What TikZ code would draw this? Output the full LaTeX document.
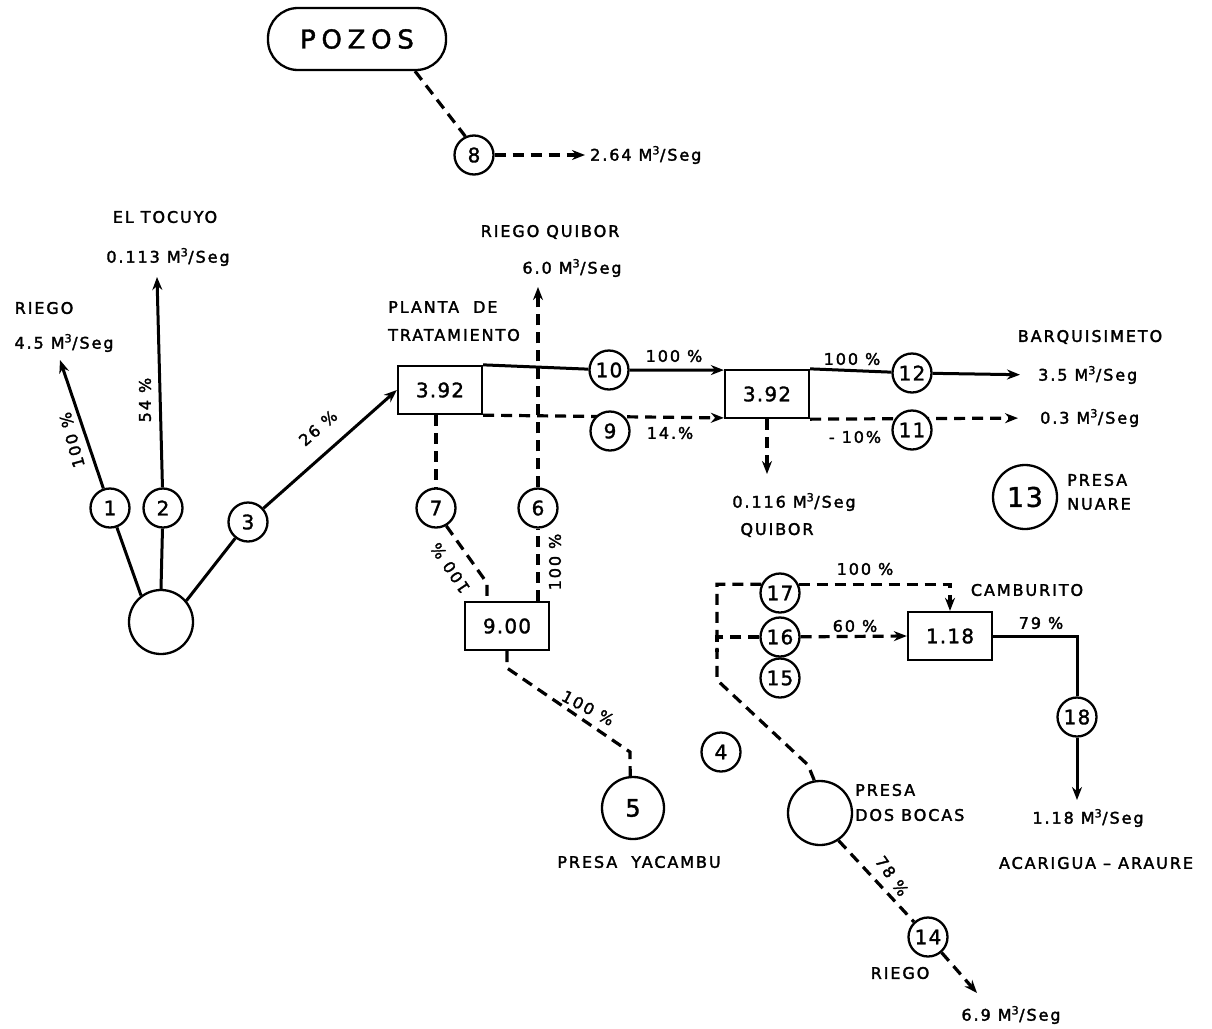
\documentclass[tikz,border=0pt]{standalone}
\usepackage{fontspec}
\setmainfont{DejaVu Sans}
\newfontfamily\lblfont[LetterSpace=12,FakeBold=2]{DejaVu Sans}
\newfontfamily\numfont[LetterSpace=6,FakeBold=1.5]{DejaVu Sans}
\newfontfamily\pozfont[LetterSpace=22,FakeBold=1.5]{DejaVu Sans}
\usetikzlibrary{arrows.meta}
\tikzset{
  ln/.style={line width=3pt},
  dsh/.style={line width=3.2pt, dash pattern=on 11pt off 7pt},
  arr/.style={-{Stealth[length=13pt,width=10pt]}},
  num/.style={circle, draw, line width=2.3pt, minimum size=39pt, inner sep=0pt, fill=white,
              font=\numfont\fontsize{20}{20}\selectfont},
  bignum/.style={num, minimum size=64pt, font=\numfont\fontsize{25}{25}\selectfont},
  boxn/.style={draw, line width=2.3pt, minimum width=84pt, minimum height=48pt, inner sep=0pt,
               fill=white, font=\numfont\fontsize{20}{20}\selectfont},
  lbl/.style={inner sep=0pt, font=\lblfont\fontsize{16}{18}\selectfont},
}
\newcommand{\msq}{M\textsuperscript{3}/Seg}
\begin{document}
\begin{tikzpicture}[x=1pt, y=-1pt]
\useasboundingbox[fill=white] (0,0) rectangle (1212,1028);

% ---- POZOS ----
\node[draw, line width=2.3pt, rounded corners=30pt, minimum width=178pt, minimum height=62pt,
      font=\pozfont\fontsize{26}{26}\selectfont] (pozos) at (357,39) {POZOS};
\node[num] (n8) at (474,155) {8};
\node[lbl, anchor=west] (q8) at (590,155) {2.64 \msq};
\draw[dsh] (pozos.-29) -- (n8.115);
\draw[dsh, arr, shorten >=5pt] (n8) -- (q8.west);

% ---- left fan ----
\node[bignum] (L) at (161,622) {};
\node[num] (n1) at (110,508) {1};
\node[num] (n2) at (163,508) {2};
\node[num] (n3) at (248,522) {3};
\coordinate (e1) at (60,360);
\coordinate (e2) at (157,277);
\node[lbl] (t1a) at (44,308) {RIEGO};
\node[lbl] (t1b) at (64,343) {4.5 \msq};
\node[lbl] (t2a) at (165,217) {EL TOCUYO};
\node[lbl] (t2b) at (168,257) {0.113 \msq};
\node[boxn] (A) at (440,390) {3.92};
\draw[ln] (L.127) -- (n1);
\draw[ln] (L.north) -- (n2);
\draw[ln] (L.40) -- (n3);
\draw[ln, arr] (n1) -- (e1);
\draw[ln, arr] (n2) -- (e2);
\draw[ln, arr] (n3) -- (A.west);
\node[lbl, rotate=105] (p1) at (72,440) {100 \%};
\node[lbl, rotate=90] (p2) at (145,400) {54 \%};
\node[lbl, rotate=41] (p3) at (318,428) {26 \%};

% ---- planta de tratamiento ----
\node[lbl, anchor=west] (tA1) at (388,307) {PLANTA\ \ DE};
\node[lbl, anchor=west] (tA2) at (388,335) {TRATAMIENTO};
\node[boxn] (B) at (767,394) {3.92};
\node[num] (n10) at (609,370) {10};
\draw[ln] (A.north east) -- (n10);
\draw[ln, arr] (n10) -- (B.151);
\draw[dsh, arr] (A.south east) -- (B.-151);
\node[num] (n9) at (610,431) {9};
\node[lbl] (p10) at (674,356) {100 \%};
\node[lbl] (p9) at (670,433) {14.\%};

% ---- right of B ----
\node[num] (n12) at (912,373) {12};
\node[lbl, anchor=west] (q12) at (1038,375) {3.5 \msq};
\node[lbl, anchor=west] (q11) at (1040,418) {0.3 \msq};
\node[lbl] (tBq) at (1090,337) {BARQUISIMETO};
\draw[ln] (B.north east) -- (n12);
\draw[ln, arr, shorten >=18pt] (n12) -- (q12.west);
\draw[dsh, arr, shorten >=22pt] (B.south east) -- (q11.west);
\node[num] (n11) at (912,430) {11};
\node[lbl] (p12) at (852,359) {100 \%};
\node[lbl] (p11) at (855,437) {- 10\%};
\coordinate (eB) at (767,474);
\draw[dsh, arr] (B.south) -- (eB);
\node[lbl] (qB) at (794,502) {0.116 \msq};
\node[lbl] (tQ) at (777,530) {QUIBOR};

% ---- 6, 7, 9.00, Yacambu ----
\node[num] (n7) at (436,508) {7};
\node[num] (n6) at (538,508) {6};
\node[boxn] (C) at (507,626) {9.00};
\coordinate (e6) at (538,287);
\node[lbl] (tRQ) at (550,232) {RIEGO QUIBOR};
\node[lbl] (qRQ) at (572,268) {6.0 \msq};
\draw[dsh] (n7 |- A.south) -- (n7);
\draw[dsh] (n6 |- C.north) -- (n6);
\draw[dsh, arr] (n6) -- (e6);
\draw[dsh] (n7.-60) -- (487,583) -- (487,602);
\node[lbl, rotate=124] (p7) at (450,568) {100 \%};
\node[lbl, rotate=90] (p6) at (555,562) {100 \%};
\node[bignum, minimum size=62pt, font=\numfont\fontsize{24}{24}\selectfont] (n5) at (633,808) {5};
\draw[dsh] (C.south) -- (507,668) -- (630,752) -- (n5.95);
\node[lbl, rotate=-28] (p5) at (588,708) {100 \%};
\node[lbl] (tY) at (639,862) {PRESA\ \ YACAMBU};
\node[num] (n4) at (721,752) {4};

% ---- Nuare ----
\node[bignum, font=\numfont\fontsize{27}{27}\selectfont] (n13) at (1025,497) {13};
\node[lbl, anchor=west] (tN1) at (1067,480) {PRESA};
\node[lbl, anchor=west] (tN2) at (1067,504) {NUARE};

% ---- Dos Bocas / Camburito ----
\node[num] (n17) at (780,593) {17};
\node[num] (n16) at (780,637) {16};
\node[num] (n15) at (780,678) {15};
\node[bignum] (DB) at (820,813) {};
\node[boxn] (D) at (950,636) {1.18};
\node[num] (n18) at (1077,717) {18};
\node[num] (n14) at (928,937) {14};
\coordinate (e18) at (1077,800);
\coordinate (e14) at (977,993);
\draw[dsh] (n17.155) -| (717,680) -- (808,765) -- (DB.100);
\draw[dsh] (n16.west) -- (717,637) -- (717,652);
\draw[dsh, arr] (n17.25) -| (D.north);
\draw[dsh, arr] (n16) -- (D.west);
\draw[ln] (D.east) -| (n18.north);
\draw[ln, arr] (n18) -- (e18);
\draw[dsh] (DB.-56) -- (n14);
\draw[dsh, arr] (n14) -- (e14);
\node[lbl] (p17) at (865,569) {100 \%};
\node[lbl] (tCa) at (1027,590) {CAMBURITO};
\node[lbl] (p16) at (855,626) {60 \%};
\node[lbl] (p18) at (1041,623) {79 \%};
\node[lbl, anchor=west] (tD1) at (855,790) {PRESA};
\node[lbl, anchor=west] (tD2) at (855,815) {DOS BOCAS};
\node[lbl] (q18) at (1088,818) {1.18 \msq};
\node[lbl] (tAA) at (1096,863) {ACARIGUA – ARAURE};
\node[lbl, rotate=-55] (p14) at (892,876) {78 \%};
\node[lbl] (tR14) at (900,973) {RIEGO};
\node[lbl] (q14) at (1011,1015) {6.9 \msq};
\end{tikzpicture}
\end{document}
